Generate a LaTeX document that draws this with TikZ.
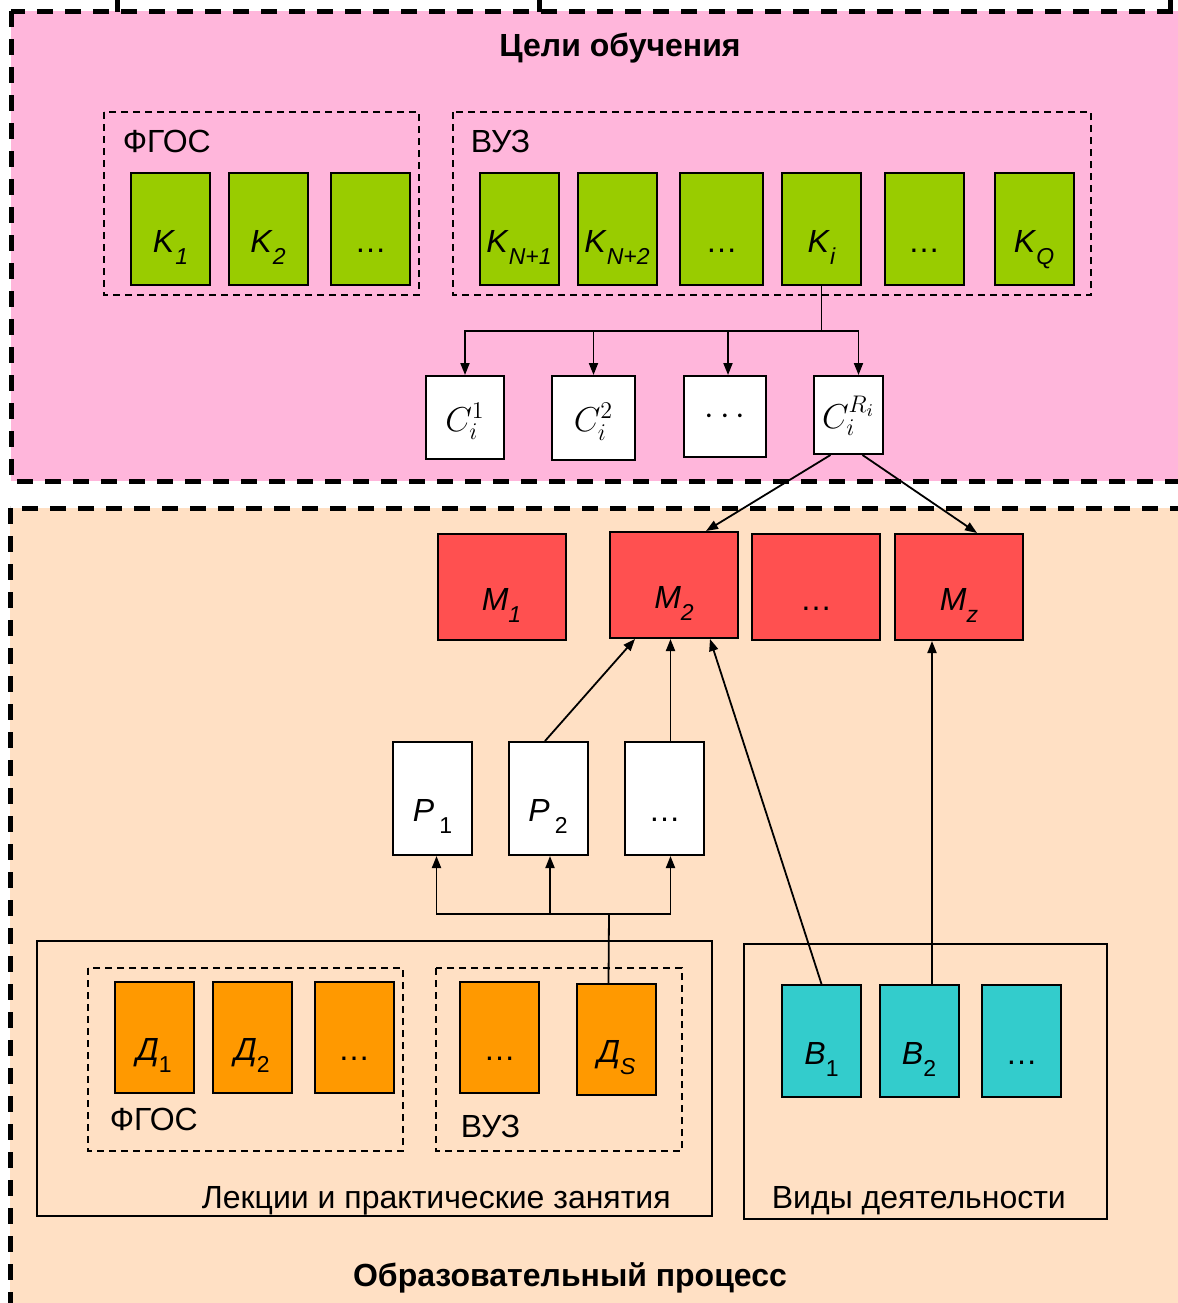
\documentclass[tikz,border=0pt]{standalone}
\usepackage{fontspec}
\setmainfont{Liberation Sans}
\usetikzlibrary{arrows.meta}
\definecolor{goalpink}{HTML}{FFB6DB}
\definecolor{procpeach}{HTML}{FFE0C4}
\definecolor{kgreen}{HTML}{99CC00}
\definecolor{mred}{HTML}{FF5050}
\definecolor{dorange}{HTML}{FF9900}
\definecolor{bcyan}{HTML}{33CCCC}
\newcommand{\lowidx}[1]{\raisebox{-6pt}{\fontsize{11.5}{13}\selectfont #1}}

\begin{document}
\begin{tikzpicture}[x=0.5pt, y=-0.5pt,
      >={Triangle[length=6pt,width=4.5pt]},
      line width=0.9pt,
      box/.style={draw, line width=1pt, inner sep=0pt,
        minimum width=39.5pt, minimum height=56pt,
        text height=23pt, text depth=0pt,
        font=\fontsize{16}{19}\selectfont},
      greenbox/.style={box, fill=kgreen},
      redbox/.style={box, fill=mred, minimum width=64pt, minimum height=53pt},
      whitebox/.style={box, fill=white},
      orangebox/.style={box, fill=dorange},
      cyanbox/.style={box, fill=bcyan},
      cbox/.style={draw, line width=1pt, fill=white, inner sep=0pt,
        anchor=north, text height=13.5pt, text depth=0pt,
        font=\fontsize{18}{21}\selectfont},
      groupbox/.style={draw, line width=0.75pt, dash pattern=on 3.5pt off 2.5pt},
      panelborder/.style={draw, line width=2.5pt, dash pattern=on 8pt off 6pt},
      grouplabel/.style={anchor=base west, inner sep=0pt,
        font=\fontsize{16}{19}\selectfont},
      paneltitle/.style={anchor=base, inner sep=0pt,
        font=\bfseries\fontsize{16}{19}\selectfont}]

    \useasboundingbox (0,0) rectangle (1178,1303);

    \fill[goalpink] (11,11) rectangle (1200,481);
    \draw[panelborder] (11,11) rectangle (1200,481);
    \fill[procpeach] (10,508) rectangle (1200,1320);
    \draw[panelborder] (10,508) rectangle (1200,1320);
    \foreach \tx in {117,539,1170}
      \fill (\tx-2.5,0) rectangle (\tx+2.5,12);

    \node[paneltitle]
      (GoalsTitle) at (620,56) {Цели обучения};
    \node[paneltitle]
      (ProcessTitle) at (570,1286) {Образовательный процесс};

    \draw[groupbox] (104,112) rectangle (419,295);
    \draw[groupbox] (453,112) rectangle (1091,295);
    \node[grouplabel]
      (FGOStop) at (122,152) {ФГОС};
    \node[grouplabel]
      (VUZtop) at (470,152) {ВУЗ};

    \node[greenbox]
      (K1) at (170.5,229) {\textit{K}\lowidx{\itshape 1}};
    \node[greenbox]
      (K2) at (268,229) {\textit{K}\lowidx{\itshape 2}};
    \node[greenbox]
      (Kdots1) at (370.5,229) {\dots};
    \node[greenbox]
      (KN1) at (519,229) {\textit{K}\lowidx{\itshape N+1}};
    \node[greenbox]
      (KN2) at (617,229) {\textit{K}\lowidx{\itshape N+2}};
    \node[greenbox, minimum width=41.5pt]
      (Kdots2) at (721.5,229) {\dots};
    \node[greenbox]
      (Ki) at (821.5,229) {\textit{K}\lowidx{\itshape i}};
    \node[greenbox]
      (Kdots3) at (924,229) {\dots};
    \node[greenbox]
      (KQ) at (1034,229) {\textit{K}\lowidx{\itshape Q}};

    \node[cbox, minimum width=39pt, minimum height=41.5pt]
      (C1) at (465,375) {$C_i^1$};
    \node[cbox, minimum width=41.5pt, minimum height=42pt]
      (C2) at (593.5,375) {$C_i^2$};
    \node[cbox, minimum width=41pt, minimum height=40.5pt, text height=8pt]
      (Cdots) at (725,375) {$\cdots$};
    \node[cbox, minimum width=34.5pt, minimum height=39pt]
      (CR) at (848.5,375) {$C_i^{R_i}$};

    \node[redbox]
      (M1) at (501.5,587) {\textit{M}\lowidx{\itshape 1}};
    \node[redbox]
      (M2) at (674,585) {\textit{M}\lowidx{\itshape 2}};
    \node[redbox]
      (Mdots) at (816,587) {\dots};
    \node[redbox]
      (Mz) at (959,587) {\textit{M}\lowidx{\itshape z}};

    \node[whitebox, minimum height=56.5pt]
      (P1) at (432.5,798.5) {\textit{P}\,\lowidx{1}};
    \node[whitebox, minimum height=56.5pt]
      (P2) at (548,798.5) {\textit{P}\,\lowidx{2}};
    \node[whitebox, minimum height=56.5pt]
      (Pdots) at (664.5,798.5) {\dots};

    \draw (37,941) rectangle (712,1216);
    \draw[groupbox] (88,968) rectangle (403,1151);
    \draw[groupbox] (436,968) rectangle (682,1151);
    \draw (744,944) rectangle (1107,1219);
    \node[grouplabel]
      (FGOSlow) at (109,1130) {ФГОС};
    \node[grouplabel]
      (VUZlow) at (460,1137) {ВУЗ};
    \node[grouplabel]
      (Lectures) at (201,1208) {Лекции и практические занятия};
    \node[grouplabel]
      (Activities) at (771,1208) {Виды деятельности};

    \node[orangebox, minimum height=55.5pt]
      (D1) at (154,1037.5) {\textit{Д}\lowidx{1}};
    \node[orangebox, minimum height=55.5pt]
      (D2) at (252,1037.5) {\textit{Д}\lowidx{2}};
    \node[orangebox, minimum height=55.5pt]
      (Ddots1) at (354,1037.5) {\dots};
    \node[orangebox, minimum height=55.5pt]
      (Ddots2) at (499.5,1037.5) {\dots};
    \node[orangebox, minimum height=55.5pt]
      (DS) at (616.5,1039.5) {\textit{Д}\lowidx{\itshape S}};

    \node[cyanbox]
      (B1) at (821.5,1041) {\textit{B}\lowidx{1}};
    \node[cyanbox]
      (B2) at (919,1041) {\textit{B}\lowidx{2}};
    \node[cyanbox]
      (Bdots) at (1021.5,1041) {\dots};

    \coordinate (Kbus) at (821.5,331);
    \coordinate (Dbus) at (609,914);

    \draw (Ki.south) -- (Kbus);
    \draw[->] (Kbus) -| (C1.north);
    \draw[->] (Kbus) -| (C2.north);
    \draw[->] (Kbus) -| ([xshift=1.5pt]Cdots.north);
    \draw[->] (Kbus) -| ([xshift=5pt]CR.north);

    \draw[->] ([xshift=-9pt]CR.south) -- ([xshift=16pt]M2.north);
    \draw[->] ([xshift=7pt]CR.south) -- ([xshift=9pt]Mz.north);

    \draw[->] ([xshift=-1.5pt]P2.north) -- ([xshift=-19.5pt]M2.south);
    \draw[->] ([xshift=3pt]Pdots.north) -- ([xshift=3pt]Pdots.north |- M2.south);
    \draw[->] (B1.north) -- ([xshift=18pt]M2.south);
    \draw[->] ([xshift=6.5pt]B2.north) -- ([xshift=6.5pt]B2.north |- Mz.south);

    \draw ([xshift=-4pt]DS.north) -- (Dbus);
    \draw[->] (Dbus) -| ([xshift=2pt]P1.south);
    \draw[->] (Dbus) -| ([xshift=1pt]P2.south);
    \draw[->] (Dbus) -| ([xshift=3pt]Pdots.south);

\end{tikzpicture}
\end{document}
